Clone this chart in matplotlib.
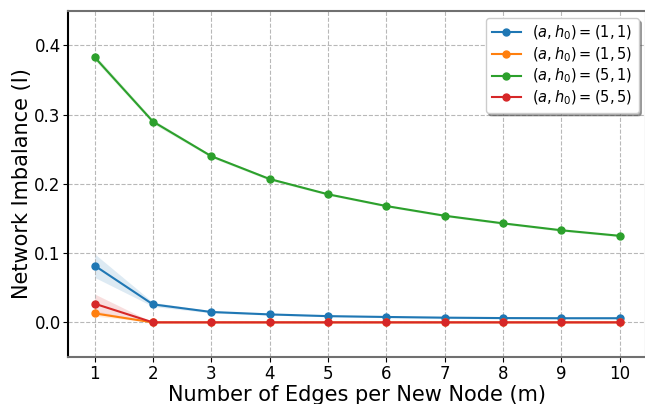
import matplotlib
matplotlib.use('Agg')
import matplotlib.pyplot as plt

m = [1, 2, 3, 4, 5, 6, 7, 8, 9, 10]

labels = [r'$(a, h_0) = (1, 1)$', r'$(a, h_0) = (1, 5)$',
          r'$(a, h_0) = (5, 1)$', r'$(a, h_0) = (5, 5)$']
colors = ['#1f77b4', '#ff7f0e', '#2ca02c', '#d62728']

# valores médios
mean_11 = [0.082, 0.026, 0.015, 0.0115, 0.009, 0.0078, 0.0068, 0.0062, 0.006, 0.006]
mean_15 = [0.013, 0.0, 0.0, 0.0, 0.0, 0.0, 0.0, 0.0, 0.0, 0.0]
mean_51 = [0.383, 0.290, 0.240, 0.207, 0.185, 0.168, 0.154, 0.143, 0.133, 0.125]
mean_55 = [0.027, 0.0, 0.0, 0.0, 0.0, 0.0, 0.0, 0.0, 0.0, 0.0]

# meia largura da banda de confiança
err_11 = [0.017, 0.003, 0.0015, 0.001, 0.001, 0.001, 0.001, 0.001, 0.001, 0.001]
err_15 = [0.004, 0.0, 0.0, 0.0, 0.0, 0.0, 0.0, 0.0, 0.0, 0.0]
err_51 = [0.004, 0.003, 0.002, 0.002, 0.0015, 0.0015, 0.0015, 0.0015, 0.0015, 0.0015]
err_55 = [0.014, 0.0, 0.0, 0.0, 0.0, 0.0, 0.0, 0.0, 0.0, 0.0]

means = [mean_11, mean_15, mean_51, mean_55]
errs = [err_11, err_15, err_51, err_55]

fig = plt.figure(figsize=(6.45, 4.04), dpi=100)
ax = fig.add_axes([68.3 / 645, 47 / 404, 577.5 / 645, 346.3 / 404])

for mean, err, lab, c in zip(means, errs, labels, colors):
    lo = [a - b for a, b in zip(mean, err)]
    hi = [a + b for a, b in zip(mean, err)]
    ax.fill_between(m, lo, hi, color=c, alpha=0.15, linewidth=0)
    ax.plot(m, mean, marker='o', markersize=5, linewidth=1.5, color=c, label=lab)

ax.set_xlim(0.55, 10.45)
ax.set_ylim(-0.05, 0.45)
ax.set_xticks(m)
ax.set_yticks([0.0, 0.1, 0.2, 0.3, 0.4])
ax.tick_params(labelsize=12, pad=2)
ax.set_xlabel('Number of Edges per New Node (m)', fontsize=15, labelpad=2)
ax.set_ylabel('Network Imbalance (I)', fontsize=15, labelpad=2)
ax.grid(True, linestyle='--', color='#b8b8b8', linewidth=0.8)

ax.spines['left'].set_color('black')
ax.spines['left'].set_linewidth(1.5)
for s in ['bottom', 'top', 'right']:
    ax.spines[s].set_color('#707070')
    ax.spines[s].set_linewidth(1.5)

ax.legend(loc='upper right', fontsize=10.5, shadow=True, labelspacing=0.22,
          borderaxespad=0.5)

fig.savefig('out.png', dpi=100)
